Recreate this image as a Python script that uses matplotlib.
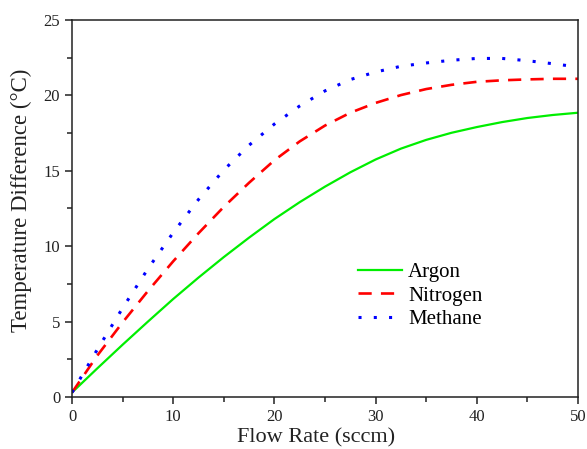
import matplotlib
matplotlib.use('Agg')
import matplotlib.pyplot as plt
from matplotlib.ticker import MultipleLocator

plt.rcParams['font.family'] = ['Liberation Serif', 'DejaVu Serif']

flow = [0, 2.5, 5, 7.5, 10, 12.5, 15, 17.5, 20, 22.5, 25, 27.5, 30, 32.5, 35,
        37.5, 40, 42.5, 45, 47.5, 50]
argon = [0.3, 1.9, 3.47, 5.0, 6.5, 7.92, 9.28, 10.57, 11.8, 12.92, 13.95, 14.9,
         15.75, 16.47, 17.05, 17.52, 17.9, 18.23, 18.5, 18.7, 18.85]
nitrogen = [0.3, 2.75, 4.95, 7.03, 9.0, 10.86, 12.61, 14.21, 15.7, 16.95, 18.0,
            18.85, 19.5, 20.02, 20.42, 20.7, 20.9, 21.0, 21.06, 21.1, 21.1]
flow_ch4 = [0, 2.5, 5, 7.5, 10, 12.5, 15, 17.5, 20, 22.5, 25, 27.5, 30, 32.5,
            35, 37.5, 40, 42.5, 45, 47.5, 49]
methane = [0.3, 3.15, 5.9, 8.5, 10.9, 13.1, 15.05, 16.7, 18.1, 19.3, 20.3, 21.05,
           21.55, 21.93, 22.15, 22.33, 22.45, 22.45, 22.3, 22.1, 21.97]

fig = plt.figure(figsize=(5.87, 4.49), dpi=100)
ax = fig.add_axes([0.1227, 0.1158, 0.862, 0.8397])

ax.plot(flow, argon, color='#00ee00', lw=1.6, label='Argon')
ax.plot(flow, nitrogen, color='#ff0000', lw=1.9, ls=(0, (5, 3.5)), label='Nitrogen')
ax.plot(flow_ch4, methane, color='#0000ff', lw=2.2, ls=(0, (1, 4)), label='Methane')

ax.set_xlim(0, 50)
ax.set_ylim(0, 25)
ax.xaxis.set_major_locator(MultipleLocator(10))
ax.xaxis.set_minor_locator(MultipleLocator(5))
ax.yaxis.set_major_locator(MultipleLocator(5))
ax.yaxis.set_minor_locator(MultipleLocator(2.5))
ax.tick_params(which='both', direction='out', top=False, right=False,
               labelsize=12, width=1.1, colors='#222222')
ax.tick_params(which='major', length=5)
ax.tick_params(which='minor', length=3.5)
for s in ax.spines.values():
    s.set_linewidth(1.1)
    s.set_color('#222222')

ax.set_xlabel('Flow Rate (sccm)', fontsize=16, color='#222222')
ax.set_ylabel('Temperature Difference (°C)', fontsize=16.5, color='#222222')
ax.xaxis.set_label_coords(0.482, -0.083)
ax.yaxis.set_label_coords(-0.08, 0.522)

ax.legend(loc='upper left', bbox_to_anchor=(0.545, 0.385), frameon=False,
          fontsize=15, handlelength=2.1, handletextpad=0.3, labelspacing=0.2,
          borderpad=0)

fig.savefig('out.png', dpi=100)
